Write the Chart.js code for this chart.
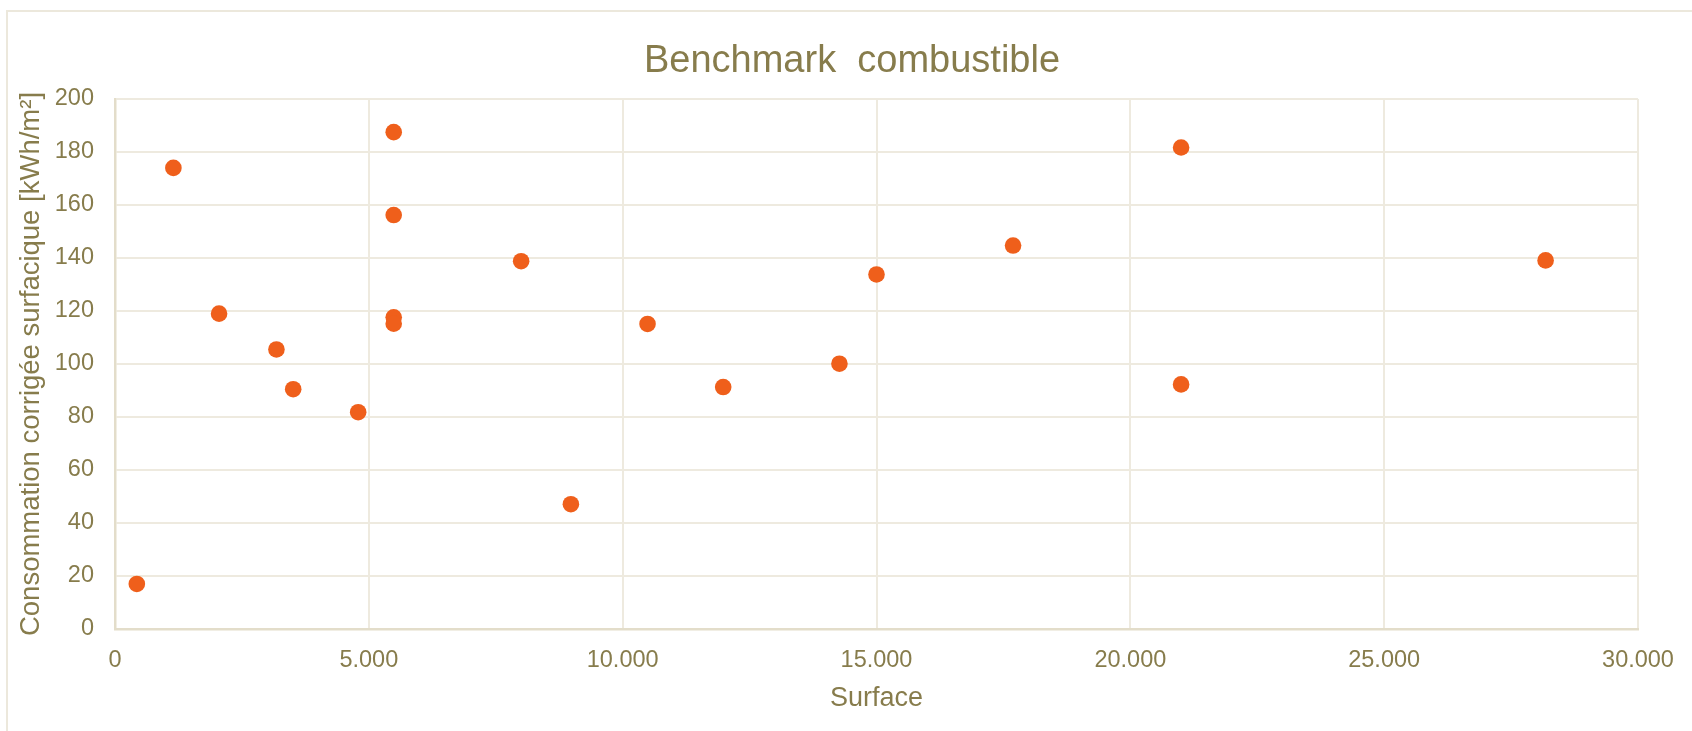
<!DOCTYPE html>
<html>
<head>
<meta charset="utf-8">
<script src="https://cdn.jsdelivr.net/npm/chart.js@4.4.1/dist/chart.umd.min.js"></script>
<style>
  html, body { margin: 0; padding: 0; background: #ffffff; }
  #wrap { position: relative; width: 1692px; height: 731px; }
</style>
</head>
<body>
<div id="wrap">
  <canvas id="benchChart" width="1692" height="731" style="width:1692px;height:731px"></canvas>
</div>
<script>
// surface (m²) and corrected consumption (kWh/m²) per building
var surface = [430, 1150, 2050, 3180, 3510, 4790, 5490, 5490, 5490, 5490, 8000, 8980, 10490, 11980, 14270, 15000, 17690, 21000, 21000, 28180];
var conso   = [17, 174, 119, 105.5, 90.5, 81.8, 187.5, 156.2, 117.6, 115.2, 138.8, 47.1, 115.1, 91.3, 100.1, 133.8, 144.7, 181.7, 92.3, 139.1];

var chartTitle = 'Benchmark  combustible';
var xTitle = 'Surface';
var yTitle = 'Consommation corrigée surfacique [kWh/m²]';
var xMin = 0, xMax = 30000, xStep = 5000;
var yMin = 0, yMax = 200, yStep = 20;

var textColor = '#877c4c';
var gridColor = '#eeeadf';
var axisColor = '#e3ddca';
var dotColor = '#ef5f1b';

var points = [];
for (var i = 0; i < surface.length; i++) {
    points.push({x: surface[i], y: conso[i]});
}

function thousands(v) {
    return String(v).replace(/\B(?=(\d{3})+(?!\d))/g, '.');
}

// light frame around the chart, like the office chart area
var frame = {
    id: 'frame',
    beforeDraw: function(chart) {
        var ctx = chart.ctx;
        ctx.save();
        ctx.fillStyle = '#ffffff';
        ctx.fillRect(0, 0, chart.width, chart.height);
        ctx.strokeStyle = '#ece8dc';
        ctx.lineWidth = 2;
        ctx.strokeRect(7, 11, 3000, 3000);
        ctx.restore();
    }
};

Chart.defaults.font.family = '"Liberation Sans", Arial, sans-serif';
Chart.defaults.color = textColor;

var ctx = document.getElementById('benchChart');
var benchChart = new Chart(ctx, {
    type: 'scatter',
    data: {
        datasets: [{
            label: 'combustible',
            data: points,
            backgroundColor: dotColor,
            borderColor: dotColor,
            borderWidth: 0,
            pointRadius: 8.3,
            pointHoverRadius: 8.3
        }]
    },
    options: {
        responsive: false,
        devicePixelRatio: 1,
        animation: false,
        layout: { padding: { left: 12, right: 0, top: 0, bottom: 0 } },
        plugins: {
            legend: { display: false },
            tooltip: { enabled: false },
            title: {
                display: true,
                text: chartTitle,
                color: textColor,
                font: { size: 38, weight: 'normal' },
                padding: { top: 39, bottom: 14.4 }
            }
        },
        scales: {
            x: {
                type: 'linear',
                min: xMin,
                max: xMax,
                ticks: {
                    stepSize: xStep,
                    padding: 17,
                    color: textColor,
                    font: { size: 23.5 },
                    maxRotation: 0,
                    callback: function(v) { return thousands(v); }
                },
                grid: { color: gridColor, lineWidth: 2, drawTicks: false },
                border: { color: axisColor, width: 2.5 },
                title: {
                    display: true,
                    text: xTitle,
                    color: textColor,
                    font: { size: 27 },
                    padding: { top: 0, bottom: 15.8 }
                },
                afterFit: function(scale) { scale.height = 102; }
            },
            y: {
                type: 'linear',
                min: yMin,
                max: yMax,
                ticks: {
                    stepSize: yStep,
                    padding: 21,
                    color: textColor,
                    font: { size: 23.5 }
                },
                grid: { color: gridColor, lineWidth: 2, drawTicks: false },
                border: { color: axisColor, width: 2.5 },
                title: {
                    display: true,
                    text: yTitle,
                    color: textColor,
                    font: { size: 27.5 },
                    padding: { top: 2.5, bottom: 0 }
                },
                afterFit: function(scale) { scale.width = 103; }
            },
            // empty right-hand box so the plot ends where the reference does
            yRight: {
                type: 'linear',
                position: 'right',
                display: true,
                ticks: { display: false },
                grid: { display: false },
                border: { display: false },
                afterFit: function(scale) { scale.width = 54; }
            }
        }
    },
    plugins: [frame]
});
</script>
</body>
</html>
